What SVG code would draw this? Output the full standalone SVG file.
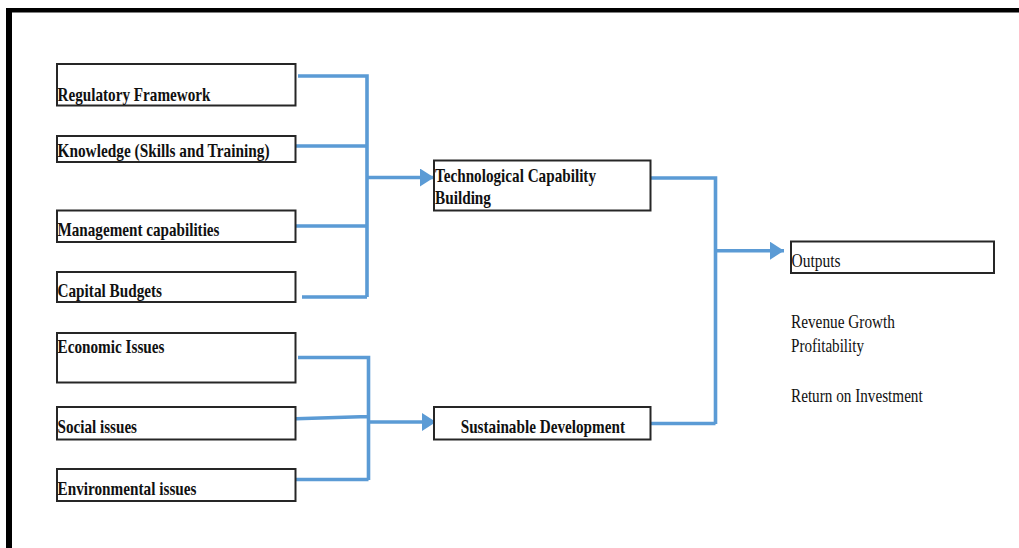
<svg xmlns="http://www.w3.org/2000/svg" width="1019" height="548" viewBox="0 0 1019 548">
<defs>
<style>
.box{fill:#fff;stroke:#262626;stroke-width:2}
.b{font-family:"Liberation Serif","Times New Roman",serif;font-weight:bold;font-size:19px;fill:#111}
.r{font-family:"Liberation Serif","Times New Roman",serif;font-size:19px;fill:#111}
.c{fill:none;stroke:#5B9BD5;stroke-width:3.6}
</style>
<marker id="ah" markerUnits="userSpaceOnUse" markerWidth="15" markerHeight="18" refX="14" refY="9" orient="auto">
<path d="M0,0 L14,9 L0,18 Z" fill="#5B9BD5"/>
</marker>
</defs>
<rect width="1019" height="548" fill="#fff"/>
<rect x="6" y="8" width="1013" height="4.5" fill="#000"/>
<rect x="6" y="8" width="6" height="540" fill="#000"/>

<g id="connectors">
<path class="c" d="M298,76 H367 V297 M296,146 H367 M296,226 H367 M302,297 H367"/>
<path class="c" d="M367,177.5 H434" marker-end="url(#ah)"/>
<path class="c" d="M298,357.5 H368.5 V480 M296,418.7 L368.5,416.5 M296,479.5 H368.5"/>
<path class="c" d="M368.5,422 H436" stroke-width="4.4" marker-end="url(#ah)"/>
<path class="c" d="M645,178 H715.5 V424 M651,423.5 H715.5"/>
<path class="c" d="M715.5,250.7 H784" marker-end="url(#ah)"/>
</g>

<g id="regulatory"><rect class="box" x="57" y="64" width="238.5" height="41.5"/><text class="b" x="57.5" y="100.7" textLength="153" lengthAdjust="spacingAndGlyphs">Regulatory Framework</text></g>
<g id="knowledge"><rect class="box" x="57" y="136" width="238.5" height="26"/><text class="b" x="57.5" y="156.5" textLength="212" lengthAdjust="spacingAndGlyphs">Knowledge (Skills and Training)</text></g>
<g id="management"><rect class="box" x="57" y="210.5" width="238.5" height="31.5"/><text class="b" x="57.5" y="236" textLength="162" lengthAdjust="spacingAndGlyphs">Management capabilities</text></g>
<g id="capital"><rect class="box" x="57" y="272" width="238.5" height="30"/><text class="b" x="57.5" y="297.3" textLength="104.5" lengthAdjust="spacingAndGlyphs">Capital Budgets</text></g>
<g id="economic"><rect class="box" x="57" y="333" width="238.5" height="49.5"/><text class="b" x="57.5" y="352.7" textLength="107" lengthAdjust="spacingAndGlyphs">Economic Issues</text></g>
<g id="social"><rect class="box" x="57" y="407" width="238.5" height="32.5"/><text class="b" x="57.5" y="433.3" textLength="79.5" lengthAdjust="spacingAndGlyphs">Social issues</text></g>
<g id="environmental"><rect class="box" x="57" y="469" width="238.5" height="32"/><text class="b" x="57.5" y="495" textLength="139" lengthAdjust="spacingAndGlyphs">Environmental issues</text></g>

<g id="tech"><rect class="box" x="434" y="160.5" width="216.5" height="50"/><text class="b" x="435" y="181.7" textLength="161" lengthAdjust="spacingAndGlyphs">Technological Capability</text><text class="b" x="435" y="204" textLength="56" lengthAdjust="spacingAndGlyphs">Building</text></g>
<g id="sustainable"><rect class="box" x="434" y="407" width="216.5" height="32.5"/><text class="b" x="460.7" y="432.7" textLength="164.3" lengthAdjust="spacingAndGlyphs">Sustainable Development</text></g>
<g id="outputs"><rect class="box" x="791" y="241.5" width="203" height="31.5"/><text class="r" x="791.5" y="267.3" textLength="49" lengthAdjust="spacingAndGlyphs">Outputs</text></g>
<g id="output-list">
<text class="r" x="791" y="327.7" textLength="104" lengthAdjust="spacingAndGlyphs">Revenue Growth</text>
<text class="r" x="791" y="351.7" textLength="73" lengthAdjust="spacingAndGlyphs">Profitability</text>
<text class="r" x="791" y="401.7" textLength="131.7" lengthAdjust="spacingAndGlyphs">Return on Investment</text>
</g>
</svg>
